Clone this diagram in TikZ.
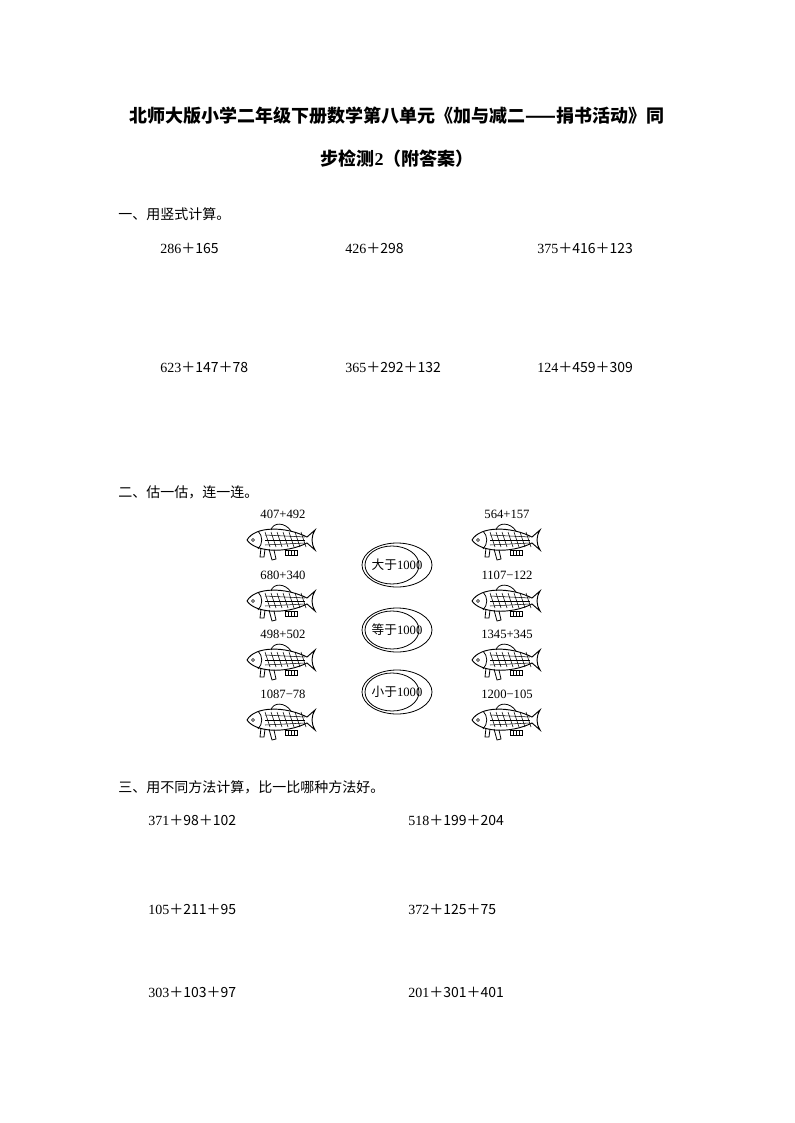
\documentclass[tikz,border=0pt]{standalone}
\usepackage{fontspec}
\setmainfont{Liberation Serif}
\newfontfamily\cjk{Noto Sans CJK SC}
\begin{document}
\begin{tikzpicture}[x=0.75pt,y=-0.75pt,
  txt/.style={anchor=west,inner sep=0pt,font=\fontsize{10.5}{12}\selectfont},
  lab/.style={inner sep=0pt,font=\fontsize{9.5}{11}\selectfont},
  ttl/.style={inner sep=0pt,font=\cjk\bfseries\fontsize{13.5}{16}\selectfont},
  fish/.pic={
    \draw[line width=0.7pt] (-38,0) .. controls (-30,-14) and (0,-14) .. (22,-3)
       -- (30,-10) .. controls (26,-3) and (26,3) .. (30,10) -- (22,3)
       .. controls (0,14) and (-30,12) .. (-38,0);
    \draw[line width=0.6pt] (-27,-9) .. controls (-22,-4) and (-22,4) .. (-27,9);
    \draw (-32,0) circle (1.5);
    \draw[line width=0.6pt] (-14,-10) .. controls (-12,-18) and (0,-18) .. (6,-9);
    \foreach \i in {-20,-14,...,16} \draw[line width=0.4pt] (\i,-8) -- (\i+5,7);
    \foreach \j in {-5,0,5} \draw[line width=0.4pt] (-20,\j) -- (20,\j*0.6);
    \draw[line width=0.6pt] (-24,8) -- (-25,17) -- (-21,17) -- (-20,9);
    \draw[line width=0.6pt] (-16,9) -- (-13,20) -- (-9,19) -- (-11,10);
    \draw[line width=0.6pt] (0,10) rectangle (12,15);
    \foreach \k in {3,6,9} \draw[line width=0.4pt] (\k,10) -- (\k,15);
  }]
\useasboundingbox (0,0) rectangle (794,1123);
\node[ttl] (t1) at (397,116) {北师大版小学二年级下册数学第八单元《加与减二——捐书活动》同};
\node[ttl] (t2) at (397,159) {步检测\textrm{2}（附答案）};
\node[txt] (s1) at (118,214) {\cjk 一、用竖式计算。};
\node[txt] (a1) at (160,248) {286\cjk{＋}165};
\node[txt] (a2) at (345,248) {426\cjk{＋}298};
\node[txt] (a3) at (537,248) {375\cjk{＋}416\cjk{＋}123};
\node[txt] (a4) at (160,367) {623\cjk{＋}147\cjk{＋}78};
\node[txt] (a5) at (345,367) {365\cjk{＋}292\cjk{＋}132};
\node[txt] (a6) at (537,367) {124\cjk{＋}459\cjk{＋}309};
\node[txt] (s2) at (118,492) {\cjk 二、估一估，连一连。};
\foreach \y/\l [count=\n] in {540/407+492,601/680+340,660/498+502,720/1087\textminus78}{
  \pic at (285,\y) {fish};
  \node[lab] (L\n) at (283,\y-26) {\l};}
\foreach \y/\l [count=\n] in {540/564+157,601/1107\textminus122,660/1345+345,720/1200\textminus105}{
  \pic at (510,\y) {fish};
  \node[lab] (R\n) at (507,\y-26) {\l};}
\foreach \y/\l [count=\n] in {565/大于,630/等于,692/小于}{
  \draw[line width=0.6pt] (397,\y) ellipse (35 and 22);
  \draw[line width=0.6pt] (392,\y) ellipse (27 and 19);
  \node[lab] (O\n) at (397,\y) {\cjk\l\rmfamily 1000};}
\node[txt] (s3) at (118,787) {\cjk 三、用不同方法计算，比一比哪种方法好。};
\node[txt] (b1) at (148,820) {371\cjk{＋}98\cjk{＋}102};
\node[txt] (b2) at (408,820) {518\cjk{＋}199\cjk{＋}204};
\node[txt] (b3) at (148,909) {105\cjk{＋}211\cjk{＋}95};
\node[txt] (b4) at (408,909) {372\cjk{＋}125\cjk{＋}75};
\node[txt] (b5) at (148,992) {303\cjk{＋}103\cjk{＋}97};
\node[txt] (b6) at (408,992) {201\cjk{＋}301\cjk{＋}401};
\end{tikzpicture}
\end{document}
